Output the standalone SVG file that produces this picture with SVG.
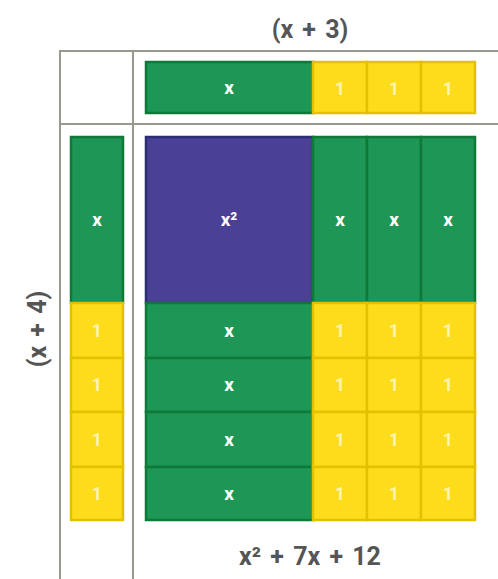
<svg xmlns="http://www.w3.org/2000/svg" width="498" height="579" viewBox="0 0 498 579">
<style>
.g{fill:#1e9656;stroke:#0f7a38;stroke-width:2.5}
.y{fill:#fddc1c;stroke:#e2c200;stroke-width:2.5}
.p{fill:#4a4196;stroke:#2b2e73;stroke-width:2.5}
.lx{font-family:Roboto,"Liberation Sans",sans-serif;font-weight:bold;font-size:19px;fill:#ffffff;text-anchor:middle}
.l1{font-family:Roboto,"Liberation Sans",sans-serif;font-weight:bold;font-size:18px;fill:#fff4b0;text-anchor:middle}
.t{font-family:Roboto,"Liberation Sans",sans-serif;font-weight:bold;font-size:25px;fill:#555555;text-anchor:middle;word-spacing:3px}
.grid{stroke:#9a978f;stroke-width:2;fill:none}
</style>
<g id="grid" class="grid">
<line x1="60" y1="51" x2="498" y2="51"/>
<line x1="60" y1="124" x2="498" y2="124"/>
<line x1="60" y1="50" x2="60" y2="579"/>
<line x1="133" y1="50" x2="133" y2="579"/>
</g>
<text class="t" x="310" y="38">(x + 3)</text>
<text class="t" transform="translate(46,329) rotate(-90)">(x + 4)</text>
<text class="t" x="310" y="565">x² + 7x + 12</text>
<g id="top">
<rect class="g" x="146" y="62" width="167" height="51"/><text class="lx" x="229" y="94">x</text>
<rect class="y" x="313" y="62" width="54" height="51"/><text class="l1" x="340" y="95">1</text>
<rect class="y" x="367" y="62" width="54" height="51"/><text class="l1" x="394" y="95">1</text>
<rect class="y" x="421" y="62" width="54" height="51"/><text class="l1" x="448" y="95">1</text>
</g>
<g id="left">
<rect class="g" x="71" y="137" width="52" height="166"/><text class="lx" x="97" y="226">x</text>
<rect class="y" x="71" y="303" width="52" height="55"/><text class="l1" x="97" y="337">1</text>
<rect class="y" x="71" y="358" width="52" height="54"/><text class="l1" x="97" y="391">1</text>
<rect class="y" x="71" y="412" width="52" height="55"/><text class="l1" x="97" y="446">1</text>
<rect class="y" x="71" y="467" width="52" height="53"/><text class="l1" x="97" y="500">1</text>
</g>
<g id="main">
<rect class="p" x="146" y="137" width="167" height="166"/><text class="lx" x="229" y="226">x²</text>
<rect class="g" x="313" y="137" width="54" height="166"/><text class="lx" x="340" y="226">x</text>
<rect class="g" x="367" y="137" width="54" height="166"/><text class="lx" x="394" y="226">x</text>
<rect class="g" x="421" y="137" width="54" height="166"/><text class="lx" x="448" y="226">x</text>
<rect class="g" x="146" y="303" width="167" height="55"/><text class="lx" x="229" y="337">x</text>
<rect class="g" x="146" y="358" width="167" height="54"/><text class="lx" x="229" y="391">x</text>
<rect class="g" x="146" y="412" width="167" height="55"/><text class="lx" x="229" y="446">x</text>
<rect class="g" x="146" y="467" width="167" height="53"/><text class="lx" x="229" y="500">x</text>
<rect class="y" x="313" y="303" width="54" height="55"/><text class="l1" x="340" y="337">1</text>
<rect class="y" x="367" y="303" width="54" height="55"/><text class="l1" x="394" y="337">1</text>
<rect class="y" x="421" y="303" width="54" height="55"/><text class="l1" x="448" y="337">1</text>
<rect class="y" x="313" y="358" width="54" height="54"/><text class="l1" x="340" y="391">1</text>
<rect class="y" x="367" y="358" width="54" height="54"/><text class="l1" x="394" y="391">1</text>
<rect class="y" x="421" y="358" width="54" height="54"/><text class="l1" x="448" y="391">1</text>
<rect class="y" x="313" y="412" width="54" height="55"/><text class="l1" x="340" y="446">1</text>
<rect class="y" x="367" y="412" width="54" height="55"/><text class="l1" x="394" y="446">1</text>
<rect class="y" x="421" y="412" width="54" height="55"/><text class="l1" x="448" y="446">1</text>
<rect class="y" x="313" y="467" width="54" height="53"/><text class="l1" x="340" y="500">1</text>
<rect class="y" x="367" y="467" width="54" height="53"/><text class="l1" x="394" y="500">1</text>
<rect class="y" x="421" y="467" width="54" height="53"/><text class="l1" x="448" y="500">1</text>
</g>
</svg>
